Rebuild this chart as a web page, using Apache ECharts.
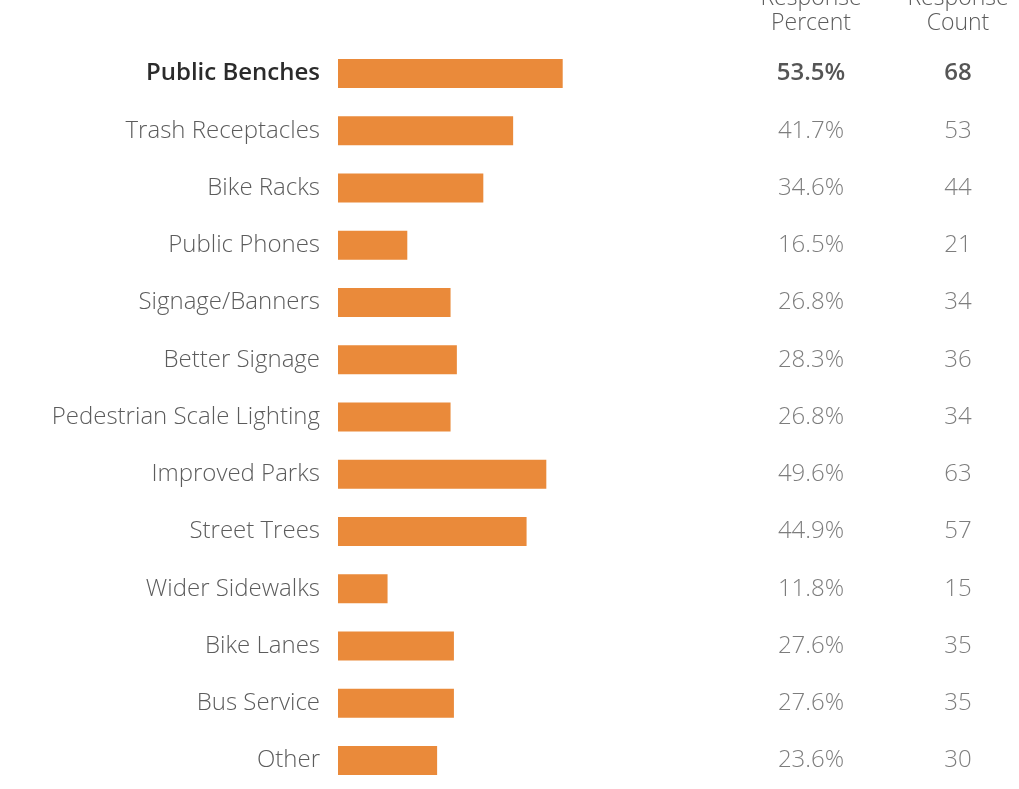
<!DOCTYPE html>
<html>
<head>
<meta charset="utf-8">
<style>
  html, body { margin: 0; padding: 0; background: #ffffff; }
  #chart { width: 1019px; height: 789px; }
</style>
<script src="https://cdn.jsdelivr.net/npm/echarts@6/dist/echarts.min.js"></script>
</head>
<body>
<div id="chart"></div>
<script>
// Survey amenities: share and number of respondents choosing each item
const categories = [
  'Public Benches', 'Trash Receptacles', 'Bike Racks', 'Public Phones',
  'Signage/Banners', 'Better Signage', 'Pedestrian Scale Lighting',
  'Improved Parks', 'Street Trees', 'Wider Sidewalks', 'Bike Lanes',
  'Bus Service', 'Other'
];
const responsePercent = [53.5, 41.7, 34.6, 16.5, 26.8, 28.3, 26.8, 49.6, 44.9, 11.8, 27.6, 27.6, 23.6];
const responseCount = [68, 53, 44, 21, 34, 36, 34, 63, 57, 15, 35, 35, 30];
const headerPercent = 'Response\nPercent';
const headerCount = 'Response\nCount';

const FONT = '"Open Sans", Lato, sans-serif';
const LIGHT = '#5c5c5c';
const DARK = '#2b2b2b';
const ORANGE = '#EA8A3A';

const rich = {
  hi: { fontFamily: FONT, fontSize: 24, fontWeight: 600, color: DARK },
  lo: { fontFamily: FONT, fontSize: 24, fontWeight: 300, color: LIGHT }
};

const chart = echarts.init(document.getElementById('chart'), null, { renderer: 'canvas' });

chart.setOption({
  backgroundColor: '#ffffff',
  animation: false,
  grid: [
    { left: 338, top: 45, width: 252, height: 750 },
    { left: 811, top: 45, width: 147, height: 750 }
  ],
  xAxis: [
    { gridIndex: 0, type: 'value', min: 0, max: 60, show: false },
    { gridIndex: 1, type: 'value', min: 0, max: 1, show: false }
  ],
  yAxis: [
    {
      gridIndex: 0, type: 'category', data: categories, inverse: true,
      axisLine: { show: false }, axisTick: { show: false }, splitLine: { show: false },
      axisLabel: {
        margin: 18,
        formatter: (v, i) => (i === 0 ? '{hi|' : '{lo|') + v + '}',
        rich: rich
      }
    },
    {
      gridIndex: 1, type: 'category', data: categories, inverse: true, show: false
    }
  ],
  series: [
    {
      name: 'Response Percent',
      type: 'bar',
      xAxisIndex: 0, yAxisIndex: 0,
      data: responsePercent,
      barWidth: 29,
      itemStyle: { color: ORANGE },
      silent: true
    },
    {
      name: 'Percent column',
      type: 'scatter',
      xAxisIndex: 1, yAxisIndex: 1,
      symbolSize: 0,
      data: responsePercent.map((v, i) => [0, categories[i]]),
      label: {
        show: true, position: 'inside',
        formatter: p => (p.dataIndex === 0 ? '{hi|' : '{lo|') + responsePercent[p.dataIndex].toFixed(1) + '%}',
        rich: rich
      },
      silent: true
    },
    {
      name: 'Count column',
      type: 'scatter',
      xAxisIndex: 1, yAxisIndex: 1,
      symbolSize: 0,
      data: responseCount.map((v, i) => [1, categories[i]]),
      label: {
        show: true, position: 'inside',
        formatter: p => (p.dataIndex === 0 ? '{hi|' : '{lo|') + responseCount[p.dataIndex] + '}',
        rich: rich
      },
      silent: true
    }
  ],
  graphic: [
    {
      type: 'text', x: 811, y: 36,
      style: {
        text: headerPercent, align: 'center', verticalAlign: 'bottom',
        font: '300 23px ' + FONT, lineHeight: 25, fill: LIGHT
      }
    },
    {
      type: 'text', x: 958, y: 36,
      style: {
        text: headerCount, align: 'center', verticalAlign: 'bottom',
        font: '300 23px ' + FONT, lineHeight: 25, fill: LIGHT
      }
    }
  ]
});
</script>
</body>
</html>
